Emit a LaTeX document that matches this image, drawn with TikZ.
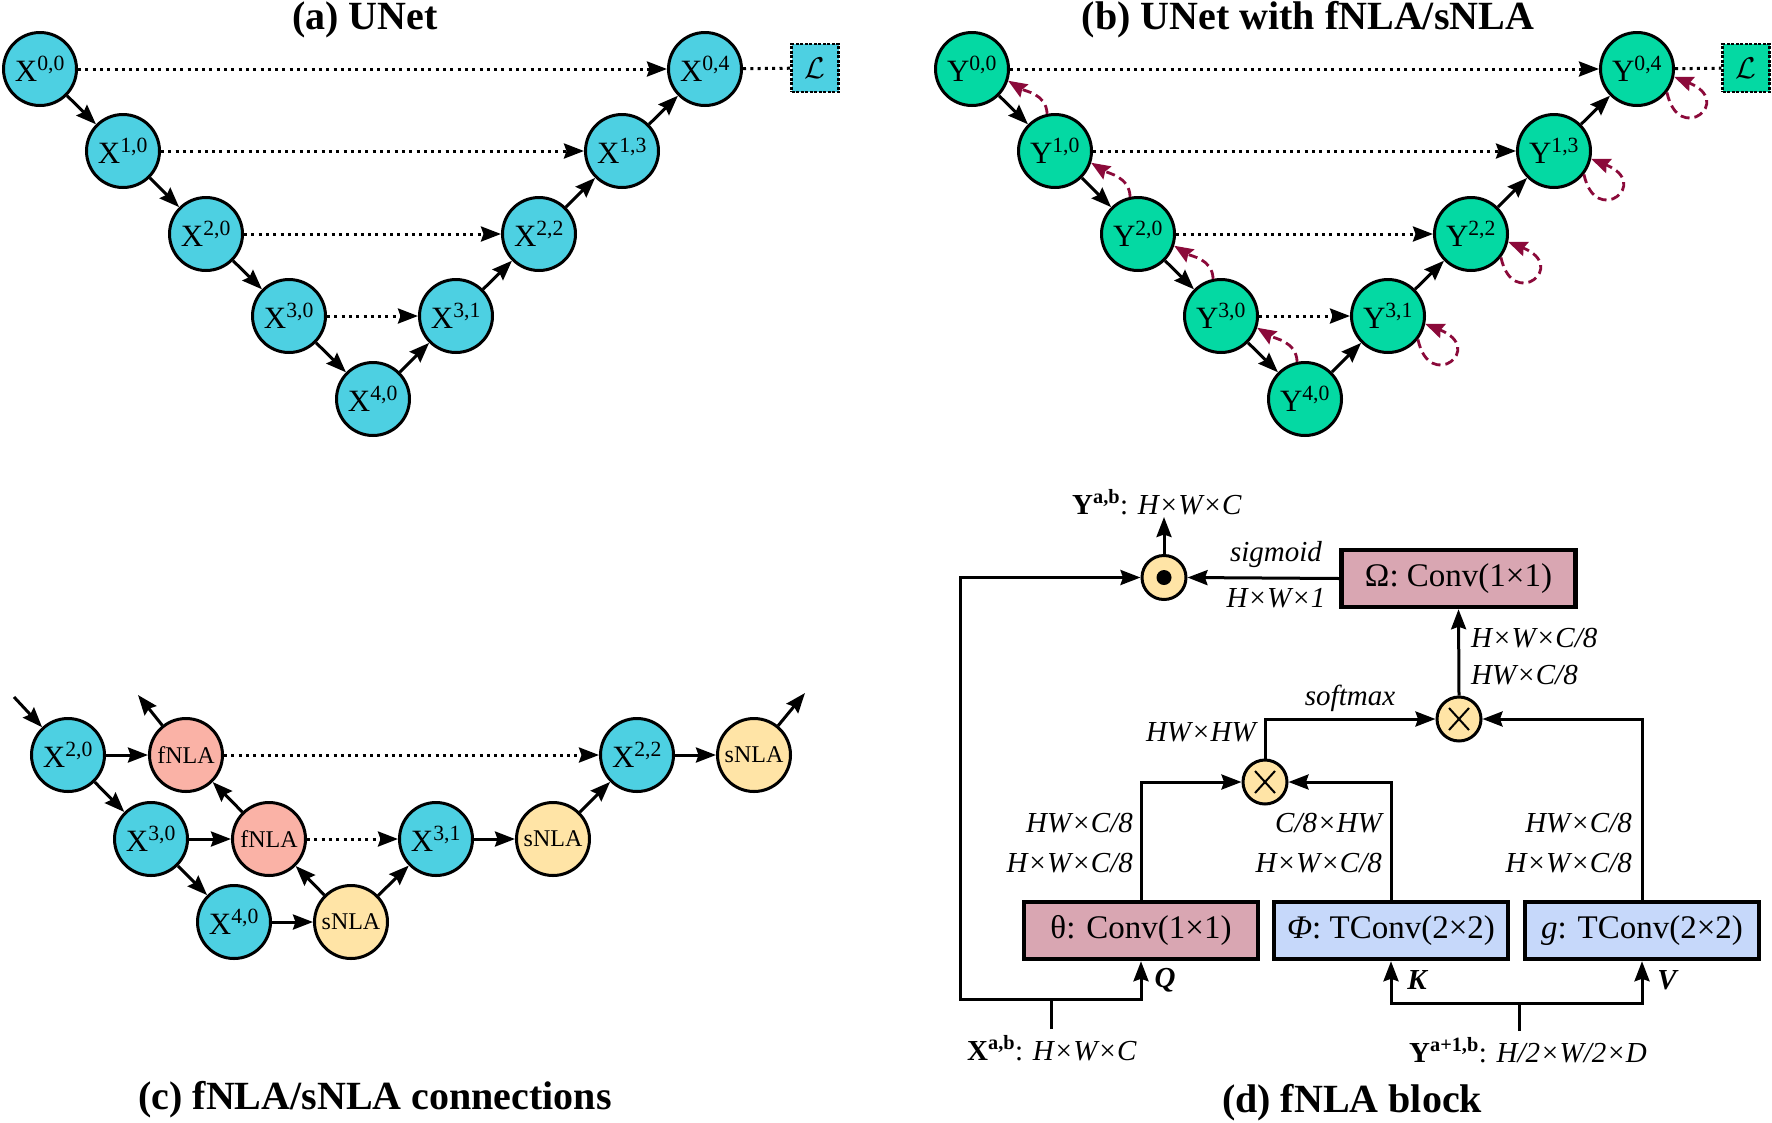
\documentclass[tikz,border=0pt]{standalone}
\usepackage{fix-cm}
\usepackage{fontspec}
\setmainfont{Liberation Serif}
\usetikzlibrary{arrows.meta,calc}
\definecolor{cyanX}{RGB}{77,208,226}
\definecolor{greenY}{RGB}{4,217,163}
\definecolor{pinkF}{RGB}{250,178,166}
\definecolor{yellowS}{RGB}{255,228,166}
\definecolor{pinkB}{RGB}{217,166,178}
\definecolor{blueB}{RGB}{198,216,250}
\definecolor{darkred}{RGB}{139,10,58}
\begin{document}
\begin{tikzpicture}[x=1pt,y=1pt,
  font=\fontsize{31}{36}\selectfont,
  cnode/.style={circle,draw,line width=3pt,minimum size=73pt,inner sep=0pt},
  xn/.style={cnode,fill=cyanX},
  yn/.style={cnode,fill=greenY},
  fn/.style={cnode,fill=pinkF,font=\fontsize{24}{28}\selectfont},
  sn/.style={cnode,fill=yellowS,font=\fontsize{24}{28}\selectfont},
  lossbox/.style={draw,line width=2.5pt,dash pattern=on 3pt off 1.5pt,minimum width=47pt,minimum height=48pt,inner sep=0pt,font=\fontsize{30}{34}\selectfont},
  arr/.style={line width=3pt,-{Stealth[length=20pt,width=15pt,inset=2.5pt]}},
  dotarr/.style={line width=3pt,dash pattern=on 3pt off 4.3pt,-{Stealth[length=20pt,width=15pt,inset=2.5pt]}},
  dotln/.style={line width=3pt,dash pattern=on 3pt off 4.3pt},
  back/.style={darkred,line width=2.8pt,dash pattern=on 9pt off 5pt,-{Stealth[length=19pt,width=15pt,inset=2.5pt]}},
  title/.style={font=\fontsize{40}{46}\selectfont\bfseries},
  lab/.style={font=\fontsize{29}{34}\selectfont\itshape,inner sep=0pt},
  qkv/.style={font=\fontsize{29}{34}\selectfont\bfseries\itshape,inner sep=0pt},
  blk/.style={draw,line width=4.5pt,minimum width=234pt,minimum height=57pt,inner sep=0pt,font=\fontsize{33}{38}\selectfont},
  opn/.style={circle,draw,line width=3pt,fill=yellowS,minimum size=44pt,inner sep=0pt},
]
\useasboundingbox (0,0) rectangle (1772,-1122);

% ---------- titles ----------
\node[title] (ta) at (365,-20) {(a) UNet};
\node[title] (tb) at (1308,-20) {(b) UNet with fNLA/sNLA};
\node[title] (tc) at (375,-1100) {(c) fNLA/sNLA connections};
\node[title] (td) at (1352,-1103) {(d) fNLA block};

% ---------- panel (a) ----------
\node[xn] (X00) at (40,-69) {X\textsuperscript{0,0}};
\node[xn] (X10) at (123,-151) {X\textsuperscript{1,0}};
\node[xn] (X20) at (206,-234) {X\textsuperscript{2,0}};
\node[xn] (X30) at (289,-316) {X\textsuperscript{3,0}};
\node[xn] (X40) at (373,-399) {X\textsuperscript{4,0}};
\node[xn] (X31) at (456,-316) {X\textsuperscript{3,1}};
\node[xn] (X22) at (539,-234) {X\textsuperscript{2,2}};
\node[xn] (X13) at (622,-151) {X\textsuperscript{1,3}};
\node[xn] (X04) at (705,-69) {X\textsuperscript{0,4}};
\node[lossbox,fill=cyanX] (La) at (815,-68) {$\mathcal{L}$};

\draw[arr] (X00) -- (X10);
\draw[arr] (X10) -- (X20);
\draw[arr] (X20) -- (X30);
\draw[arr] (X30) -- (X40);
\draw[arr] (X40) -- (X31);
\draw[arr] (X31) -- (X22);
\draw[arr] (X22) -- (X13);
\draw[arr] (X13) -- (X04);
\draw[dotarr] (X00) -- (X04);
\draw[dotarr] (X10) -- (X13);
\draw[dotarr] (X20) -- (X22);
\draw[dotarr] (X30) -- (X31);
\draw[dotln] (X04) -- (La);

% ---------- panel (b) ----------
\node[yn] (Y00) at (972,-69) {Y\textsuperscript{0,0}};
\node[yn] (Y10) at (1055,-151) {Y\textsuperscript{1,0}};
\node[yn] (Y20) at (1138,-234) {Y\textsuperscript{2,0}};
\node[yn] (Y30) at (1221,-316) {Y\textsuperscript{3,0}};
\node[yn] (Y40) at (1305,-399) {Y\textsuperscript{4,0}};
\node[yn] (Y31) at (1388,-316) {Y\textsuperscript{3,1}};
\node[yn] (Y22) at (1471,-234) {Y\textsuperscript{2,2}};
\node[yn] (Y13) at (1554,-151) {Y\textsuperscript{1,3}};
\node[yn] (Y04) at (1637,-69) {Y\textsuperscript{0,4}};
\node[lossbox,fill=greenY] (Lb) at (1746,-68) {$\mathcal{L}$};

\draw[arr] (Y00) -- (Y10);
\draw[arr] (Y10) -- (Y20);
\draw[arr] (Y20) -- (Y30);
\draw[arr] (Y30) -- (Y40);
\draw[arr] (Y40) -- (Y31);
\draw[arr] (Y31) -- (Y22);
\draw[arr] (Y22) -- (Y13);
\draw[arr] (Y13) -- (Y04);
\draw[dotarr] (Y00) -- (Y04);
\draw[dotarr] (Y10) -- (Y13);
\draw[dotarr] (Y20) -- (Y22);
\draw[dotarr] (Y30) -- (Y31);
\draw[dotln] (Y04) -- (Lb);

\draw[back] (Y10.102) to[out=92,in=-32] (Y00.-18);
\draw[back] (Y20.102) to[out=92,in=-32] (Y10.-18);
\draw[back] (Y30.102) to[out=92,in=-32] (Y20.-18);
\draw[back] (Y40.102) to[out=92,in=-32] (Y30.-18);
\draw[back] (Y31.-38) .. controls +(-78:55) and +(-22:66) .. (Y31.-12);
\draw[back] (Y22.-38) .. controls +(-78:55) and +(-22:66) .. (Y22.-12);
\draw[back] (Y13.-38) .. controls +(-78:55) and +(-22:66) .. (Y13.-12);
\draw[back] (Y04.-38) .. controls +(-78:55) and +(-22:66) .. (Y04.-12);

% ---------- panel (c) ----------
\node[xn] (C20) at (68,-755) {X\textsuperscript{2,0}};
\node[fn] (F1) at (186,-755) {fNLA};
\node[xn] (C22) at (637,-755) {X\textsuperscript{2,2}};
\node[sn] (S1) at (754,-755) {sNLA};
\node[xn] (C30) at (151,-839) {X\textsuperscript{3,0}};
\node[fn] (F2) at (269,-839) {fNLA};
\node[xn] (C31) at (436,-839) {X\textsuperscript{3,1}};
\node[sn] (S2) at (553,-839) {sNLA};
\node[xn] (C40) at (234,-922) {X\textsuperscript{4,0}};
\node[sn] (S3) at (351,-922) {sNLA};
\coordinate (cin) at (14,-697);
\coordinate (fout) at (138,-695);
\coordinate (sout) at (805,-693);

\draw[arr] (cin) -- (C20);
\draw[arr] (F1) -- (fout);
\draw[arr] (S1) -- (sout);
\draw[arr] (C20) -- (F1);
\draw[arr] (C20) -- (C30);
\draw[arr] (C30) -- (F2);
\draw[arr] (C30) -- (C40);
\draw[arr] (C40) -- (S3);
\draw[arr] (S3) -- (F2);
\draw[arr] (F2) -- (F1);
\draw[arr] (S3) -- (C31);
\draw[arr] (C31) -- (S2);
\draw[arr] (S2) -- (C22);
\draw[arr] (C22) -- (S1);
\draw[dotarr] (F1) -- (C22);
\draw[dotarr] (F2) -- (C31);

% ---------- panel (d) ----------
\node[blk,fill=pinkB] (om) at (1458.5,-578.5) {Ω: Conv(1×1)};
\node[blk,fill=pinkB] (th) at (1141,-930.5) {θ: Conv(1×1)};
\node[blk,fill=blueB] (ph) at (1391,-930.5) {\textit{Φ}: TConv(2×2)};
\node[blk,fill=blueB] (gg) at (1642,-930.5) {\textit{g}: TConv(2×2)};

\node[opn] (od) at (1164,-577.5) {};
\fill (od.center) circle (7.5pt);
\node[opn] (ot1) at (1265,-782) {};
\draw[line width=2pt] (ot1.center) +(-10,-11) -- +(10,11) +(-10,11) -- +(10,-11);
\node[opn] (ot2) at (1459,-719) {};
\draw[line width=2pt] (ot2.center) +(-10,-11) -- +(10,11) +(-10,11) -- +(10,-11);

\coordinate (yout) at (1164,-517);
\node[lab,font=\fontsize{29}{34}\selectfont] (ylab) at (1157,-502) {\textbf{Y}\textsuperscript{\textbf{a,b}}: \textit{H×W×C}};
\draw[arr] (od.north) -- (yout);

\draw[arr] (om.west) -- (od.east);
\node[lab] (sig) at (1276,-555) {sigmoid};
\node[lab] (hw1) at (1276,-598) {H×W×1};

% bottom inputs
\coordinate (xj) at (1051,-999);
\coordinate (xin) at (1051,-1029);
\coordinate (lc) at (960,-999);
\draw[line width=3pt] (xin) -- (xj);
\draw[arr] (xj) -| (th.south);
\draw[arr] (xj) -- (lc) |- (od.west);
\node[lab,font=\fontsize{29}{34}\selectfont] (xlab) at (1052,-1048) {\textbf{X}\textsuperscript{\textbf{a,b}}: \textit{H×W×C}};

\coordinate (yj) at (1519,-1003);
\coordinate (yin) at (1519,-1031);
\draw[line width=3pt] (yin) -- (yj);
\draw[arr] (yj) -| (ph.south);
\draw[arr] (yj) -| (gg.south);
\node[lab,font=\fontsize{29}{34}\selectfont] (ylab2) at (1528,-1050) {\textbf{Y}\textsuperscript{\textbf{a+1,b}}: \textit{H/2×W/2×D}};

\node[qkv] (q) at (1165,-980) {Q};
\node[qkv] (k) at (1417,-980) {K};
\node[qkv] (v) at (1667,-980) {V};

% upward paths
\draw[arr] (th.north) |- (ot1.west);
\draw[arr] (ph.north) |- (ot1.east);
\draw[arr] (ot1.north) |- (ot2.west);
\draw[arr] (gg.north) |- (ot2.east);
\draw[arr] (ot2.north) -- (om.south);

\node[lab,anchor=east] (l1) at (1133,-823) {HW×C/8};
\node[lab,anchor=east] (l2) at (1133,-863) {H×W×C/8};
\node[lab,anchor=east] (l3) at (1382,-823) {C/8×HW};
\node[lab,anchor=east] (l4) at (1382,-863) {H×W×C/8};
\node[lab,anchor=east] (l5) at (1632,-823) {HW×C/8};
\node[lab,anchor=east] (l6) at (1632,-863) {H×W×C/8};
\node[lab,anchor=east] (l7) at (1256,-732) {HW×HW};
\node[lab] (l8) at (1350,-698) {softmax};
\node[lab,anchor=west] (l9) at (1471,-638) {H×W×C/8};
\node[lab,anchor=west] (l10) at (1471,-675) {HW×C/8};
\end{tikzpicture}
\end{document}
